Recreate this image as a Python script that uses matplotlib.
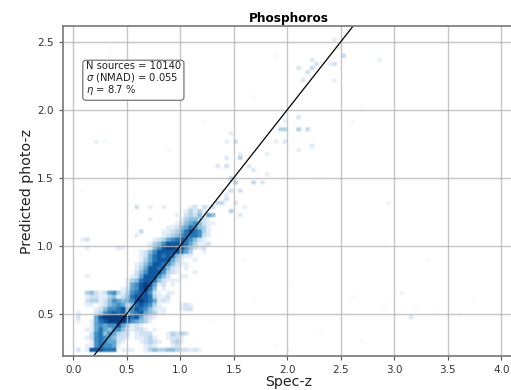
import numpy as np
import matplotlib
matplotlib.use('Agg')
import matplotlib.pyplot as plt
from matplotlib.colors import LinearSegmentedColormap

# dense part of the 2d histogram (0-9 shade per cell)
# first string is the top row, y bins 0.03 wide, x bins 0.042 wide starting at 0
dense_rows = [
    "00000000000000100000000000120212",  # y = 1.27
    "00000000000000000000000001313100",
    "00000000000000000000000102324110",
    "00000000000000000100000013443210",
    "00000000000000000000000124564211",
    "00000000000000000000011245764310",
    "00000000000000010000112357876310",
    "00000000000000100000123467776210",
    "00100000000000000012356787642100",
    "00000000000000000134688887531120",
    "00000000000100000146899886421200",
    "00000000000000012468888875300100",
    "00000000000000012578787421100000",
    "00000000000000013578885310010000",
    "00000000000000124688764211000000",
    "00000000000000135887742101000000",
    "00000000000000246888632100010000",
    "00010000000001258886420011000000",
    "00000000000013478874211100000000",
    "00000000000015689851201000000000",
    "00000000000125689740100000000000",
    "00034212563136788621011000000000",
    "00012211341247888731120000000000",
    "00023312465456898751210000000000",
    "00011012456524787631000012100000",
    "00000124667846876421100012200000",
    "01000236787836785431100000000000",
    "02000589999997853210000000000000",
    "01001578999986543100000000000000",
    "00001565668531210000000000000000",
    "00011575466421221010000000000000",
    "00002674653220122200013232000000",
    "00012676542210112310012210000000",
    "00001676552100012321002310000000",
    "00011676651000001210001200000000",
    "02018887770111001343344322121000",
    "00000000000000000000000000000000",  # y = 0.19
]

# sparse cells further out along the relation
sparse_spec_z = [2.21, 2.17, 2.25, 2.21, 2.43, 2.54, 2.42, 2.47, 2.13, 2.09, 2.38,
                 1.95, 1.99, 2.09, 2.19, 2.09, 1.97, 1.88, 1.97, 2.23, 2.09, 2.42,
                 1.56, 1.43, 1.51, 1.43, 1.47, 1.56, 1.34, 1.43, 1.65, 1.67, 1.49,
                 1.51, 1.67, 1.76, 1.80, 1.48, 1.55, 1.80, 1.43,
                 1.34, 1.38, 1.25, 1.29, 1.46, 1.41, 1.55, 1.60, 1.51, 1.38,
                 2.84, 3.15, 3.08, 2.95, 0.20, 0.12, 0.12, 0.41, 0.62, 0.60, 0.70, 0.85]
sparse_photo_z = [2.30, 2.26, 2.33, 2.36, 2.34, 2.39, 2.52, 2.44, 2.22, 2.30, 2.34,
                  1.84, 1.84, 1.84, 1.84, 1.93, 1.90, 1.77, 1.76, 1.72, 1.69, 2.22,
                  1.63, 1.64, 1.77, 1.77, 1.81, 1.68, 1.58, 1.57, 1.57, 1.54, 1.48,
                  1.46, 1.46, 1.46, 1.51, 1.41, 1.40, 1.66, 1.34,
                  1.31, 1.30, 1.22, 1.22, 1.24, 1.37, 1.22, 1.27, 1.31, 1.40,
                  2.36, 0.46, 0.65, 1.30, 1.76, 1.05, 0.97, 0.97, 1.09, 1.28, 1.28, 1.28]
sparse_counts = [2.5, 2.0, 2.0, 1.5, 2.0, 2.5, 1.0, 1.0, 1.5, 1.5, 1.0,
                 3.0, 3.0, 3.0, 2.5, 1.5, 1.0, 1.0, 1.5, 1.5, 1.0, 1.0,
                 3.0, 1.5, 2.0, 1.0, 1.0, 1.0, 1.5, 2.0, 1.5, 1.5, 3.0,
                 3.0, 2.5, 1.5, 1.0, 2.0, 2.0, 1.0, 2.0,
                 2.5, 2.5, 4.0, 4.0, 3.0, 1.0, 1.5, 1.0, 1.5, 1.0,
                 1.0, 1.5, 0.6, 0.6, 1.0, 2.0, 1.0, 1.5, 1.5, 1.0, 1.0, 1.0]

# very faint outliers
faint_spec_z = [0.35, 0.55, 0.9, 1.2, 1.7, 1.9, 2.3, 2.6, 2.7, 2.9, 3.3, 3.6, 3.75, 1.9, 2.0,
                2.3, 2.5, 2.7, 2.9, 3.2, 3.4, 1.0, 1.6, 0.1, 0.3, 2.0, 1.3, 1.7, 2.6, 0.5]
faint_photo_z = [2.45, 2.3, 1.7, 1.9, 2.1, 2.4, 1.5, 1.9, 2.0, 1.0, 0.9, 0.5, 0.6, 0.25, 0.24,
                 0.35, 0.5, 0.3, 0.55, 0.52, 0.5, 1.5, 0.9, 1.4, 1.75, 0.7, 0.45, 0.6, 0.62, 1.6]

stats_text = 'N sources = 10140\n$\\sigma$ (NMAD) = 0.055\n$\\eta$ = 8.7 %'

x_bin = 0.042
y_bin = 0.03
x_edges = np.arange(-0.105, 4.2, x_bin)
y_edges = 0.19 + y_bin * np.arange(82)

xx, yy, ww = list(sparse_spec_z), list(sparse_photo_z), list(sparse_counts)
xx += faint_spec_z
yy += faint_photo_z
ww += [0.3] * len(faint_spec_z)
for i, row in enumerate(dense_rows):
    row_y = 0.205 + y_bin * (len(dense_rows) - 1 - i)
    for k, c in enumerate(row):
        if c != '0':
            xx.append(k * x_bin)
            yy.append(row_y)
            ww.append(int(c))

hist, _, _ = np.histogram2d(xx, yy, bins=[x_edges, y_edges], weights=ww)

fig = plt.figure(figsize=(5.11, 3.90), dpi=100)
ax = fig.add_axes([62.8 / 511, 34 / 390, 451.5 / 511, 330 / 390])

# Blues, but starting from plain white so the empty cells stay white
blues = plt.get_cmap('Blues')
cmap = LinearSegmentedColormap.from_list('white_blues', ['white'] + [blues(v) for v in np.linspace(0.12, 1, 8)])

# doubling the cells keeps their shape, bilinear only softens the edges
ax.imshow(np.kron(hist.T, np.ones((2, 2))), origin='lower', aspect='auto', cmap=cmap, vmin=0, vmax=9.5,
          extent=[x_edges[0], x_edges[-1], y_edges[0], y_edges[-1]], interpolation='bilinear')
ax.plot([0, 5], [0, 5], color='black', lw=0.9)

ax.set_xlim(-0.1, 4.12)
ax.set_ylim(0.1875, 2.614)
ax.set_xticks(np.arange(0, 4.5, 0.5))
ax.set_yticks(np.arange(0.5, 3.0, 0.5))
ax.grid(True, color='#b8b8b8', lw=1.0, alpha=0.8)
ax.tick_params(labelsize=7.5, labelcolor='#333333', color='#555555', length=3, width=0.8)
for s in ax.spines.values():
    s.set_color('#777777')
    s.set_linewidth(1.2)

ax.set_title('Phosphoros', fontsize=8.7, fontweight='bold', pad=3)
ax.set_xlabel('Spec-z', fontsize=10.2, color='#222222', labelpad=0)
ax.set_ylabel('Predicted photo-z', fontsize=10.2, color='#222222', labelpad=2)

ax.text(0.115, 2.355, stats_text, fontsize=7.2, color='#222222', va='top', ha='left', linespacing=0.95,
        bbox=dict(boxstyle='round,pad=0.3', facecolor='white', edgecolor='#666666', lw=0.8))

fig.savefig('out.png', dpi=100)
